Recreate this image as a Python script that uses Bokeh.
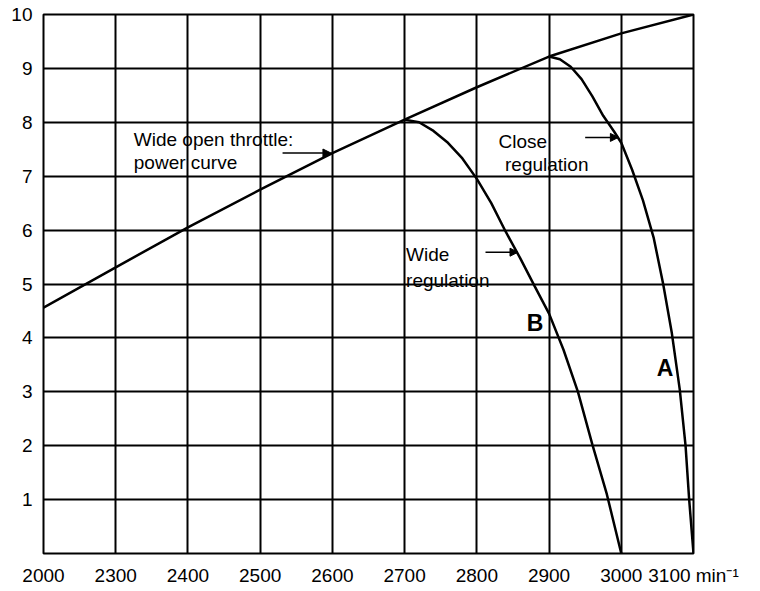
from bokeh.plotting import figure
from bokeh.models import Range1d, FixedTicker, Arrow, NormalHead
from bokeh.core.properties import value
from bokeh.embed import file_html
from bokeh.resources import INLINE

# ---- data ----
# x axis is broken: its first gridline is labelled "2000" but sits one cell left of 2300
x_tick_vals = [2200, 2300, 2400, 2500, 2600, 2700, 2800, 2900, 3000, 3100]
x_tick_labels = ["2000", "2300", "2400", "2500", "2600", "2700", "2800", "2900", "3000", "3100 min\u207b\u00b9"]
y_tick_vals = [1, 2, 3, 4, 5, 6, 7, 8, 9, 10]
y_tick_labels = ["1", "2", "3", "4", "5", "6", "7", "8", "9", "10"]

# wide open throttle: power curve
power_rpm = [2200, 2300, 2400, 2500, 2600, 2700, 2800, 2900, 3000, 3100]
power_val = [4.56, 5.31, 6.05, 6.75, 7.43, 8.05, 8.65, 9.22, 9.65, 10.0]

# curve B: wide regulation
wide_rpm = [2700, 2720, 2740, 2760, 2780, 2800, 2820, 2840, 2860, 2880, 2900, 2920, 2940, 2960, 2980, 3000]
wide_val = [8.05, 8.0, 7.84, 7.62, 7.33, 6.95, 6.5, 5.97, 5.48, 4.96, 4.45, 3.78, 3.0, 2.02, 1.1, 0.0]

# curve A: close regulation
close_rpm = [2900, 2915, 2930, 2945, 2960, 2975, 2990, 3000, 3015, 3030, 3045, 3058, 3070, 3081, 3089, 3094, 3100]
close_val = [9.22, 9.17, 9.03, 8.80, 8.48, 8.12, 7.83, 7.62, 7.12, 6.55, 5.85, 5.0, 4.09, 3.04, 2.0, 1.0, 0.0]

note_text = ["Wide open throttle:", "power curve", "Close", "regulation", "Wide", "regulation"]
curve_names = ["B", "A"]

FONT = "Liberation Sans"

p = figure(width=752, height=588, output_backend="svg", toolbar_location=None,
           x_range=Range1d(2200, 3100), y_range=Range1d(0, 10),
           min_border_left=43, min_border_right=59, min_border_top=14, min_border_bottom=10)
p.background_fill_color = "white"
p.border_fill_color = "white"
p.outline_line_color = "black"
p.outline_line_width = 2
p.outline_line_alpha = 1

xt = FixedTicker(ticks=x_tick_vals)
yt = FixedTicker(ticks=y_tick_vals)
p.xaxis.ticker = xt
p.yaxis.ticker = yt
p.xaxis.major_label_overrides = dict(zip(x_tick_vals, x_tick_labels))
p.yaxis.major_label_overrides = dict(zip(y_tick_vals, y_tick_labels))
for ax in (p.xaxis, p.yaxis):
    ax.axis_line_color = None
    ax.major_tick_line_color = None
    ax.minor_tick_line_color = None
    ax.major_tick_out = 0
    ax.major_tick_in = 0
    ax.minor_tick_out = 0
    ax.minor_tick_in = 0
    ax.axis_label_standoff = 0
    ax.major_label_text_font = FONT
    ax.major_label_text_font_size = "19px"
    ax.major_label_text_color = "black"
p.xaxis.major_label_standoff = 11
p.yaxis.major_label_standoff = 11

for g in (p.xgrid, p.ygrid):
    g.grid_line_color = "black"
    g.grid_line_width = 2
    g.grid_line_alpha = 1
p.xgrid.ticker = xt
p.ygrid.ticker = yt

# curves
p.line(power_rpm, power_val, line_color="black", line_width=2.5)
p.line(wide_rpm, wide_val, line_color="black", line_width=2.5)
p.line(close_rpm, close_val, line_color="black", line_width=2.5)

# annotation texts
p.text(x=[2325, 2325, 2830, 2839, 2702, 2702],
       y=[7.69, 7.26, 7.65, 7.22, 5.54, 5.07],
       text=note_text, text_font=value(FONT), text_font_size="19px",
       text_color="black", text_align="left", text_baseline="alphabetic")
p.text(x=[2869, 3049], y=[4.28, 3.44], text=curve_names,
       text_font=value(FONT), text_font_size="23px", text_font_style="bold",
       text_color="black", text_align="left", text_baseline="alphabetic")

# arrows
for xs, xe, yy in [(2531, 2598, 7.43), (2950, 2996, 7.72), (2812, 2857, 5.59)]:
    p.add_layout(Arrow(end=NormalHead(size=8, fill_color="black", line_color="black"),
                       x_start=xs, y_start=yy, x_end=xe, y_end=yy,
                       line_color="black", line_width=1.5))

open("out.html", "w").write(file_html(p, INLINE))
